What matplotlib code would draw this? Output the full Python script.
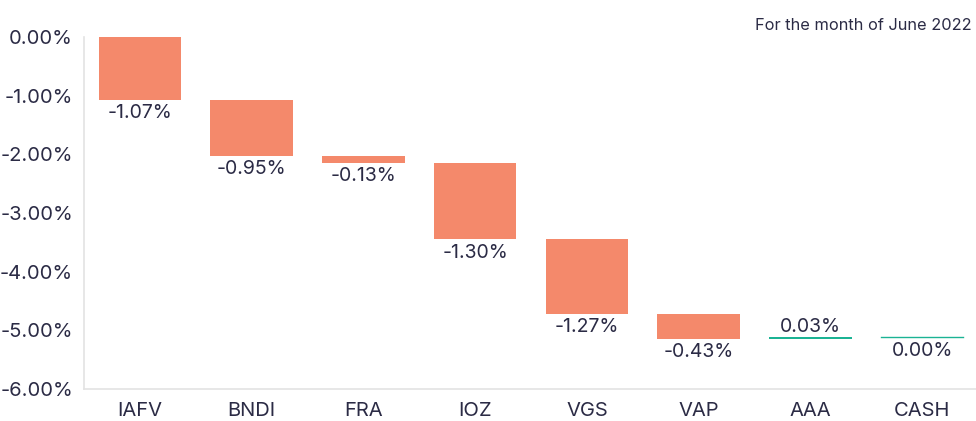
import matplotlib
matplotlib.use("Agg")
import matplotlib.pyplot as plt
import numpy as np

categories = ["IAFV", "BNDI", "FRA", "IOZ", "VGS", "VAP", "AAA", "CASH"]
values = [-1.07, -0.95, -0.13, -1.30, -1.27, -0.43, 0.03, 0.00]
yticks = [0, -1, -2, -3, -4, -5, -6]
title = "For the month of June 2022"

plt.rcParams['font.family'] = ['Inter', 'DejaVu Sans']
txt = "#2b2b45"
neg_col = "#f4896b"
pos_col = "#1bb394"

fig = plt.figure(figsize=(9.76, 4.21), dpi=100)
ax = fig.add_axes([84/976, 32/421, (978-84)/976, (389-37)/421])

vals = np.array(values)
starts = np.concatenate([[0], np.cumsum(vals)[:-1]])
x = np.arange(len(categories))
for i, (s, v) in enumerate(zip(starts, vals)):
    col = neg_col if v < 0 else pos_col
    if v == 0:
        ax.plot([i - 0.37, i + 0.37], [s, s], color=pos_col, lw=1.0)
    else:
        ax.bar(i, v, bottom=s, width=0.74, color=col)
    lab = f"{v:.2f}%"
    if v > 0:
        ax.annotate(lab, (i, s + v), xytext=(0, 1), textcoords="offset points",
                    ha="center", va="bottom", fontsize=14, color=txt)
    else:
        ax.annotate(lab, (i, s + v), xytext=(0, -3), textcoords="offset points",
                    ha="center", va="top", fontsize=14, color=txt)

ax.set_xlim(-0.5, len(categories) - 0.5)
ax.set_ylim(-6, 0)
ax.set_yticks(yticks)
ax.set_yticklabels([f"{t:.2f}%" for t in yticks])
ax.set_xticks(x)
ax.set_xticklabels(categories)
ax.tick_params(axis="both", length=0, labelsize=14.5, colors=txt)
ax.tick_params(axis="y", pad=8)
ax.tick_params(axis="x", pad=9)
for sp in ["top", "right"]:
    ax.spines[sp].set_visible(False)
for sp in ["left", "bottom"]:
    ax.spines[sp].set_color("#e3e3e3")
    ax.spines[sp].set_linewidth(1.2)

fig.text(972/976, 1 - 25/421, title, ha="right", va="center", fontsize=11.8, color=txt)

fig.savefig("out.png", dpi=100)
